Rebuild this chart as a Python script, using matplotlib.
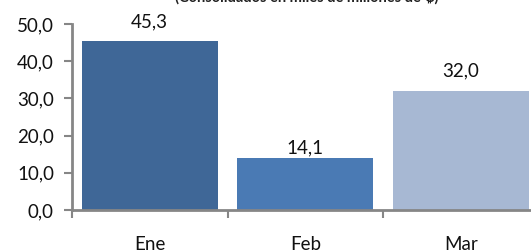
import matplotlib
matplotlib.use("Agg")
import matplotlib.pyplot as plt
from matplotlib.ticker import FixedLocator, NullFormatter

categories = ["Ene", "Feb", "Mar"]
values = [45.3, 14.1, 32.0]
value_labels = ["45,3", "14,1", "32,0"]
yticks = [0, 10, 20, 30, 40, 50]
ytick_labels = ["0,0", "10,0", "20,0", "30,0", "40,0", "50,0"]
title = "(Consolidados en miles de millones de ₡)"

colors = ["#3F6797", "#4A7AB4", "#A7B8D3"]
label_offsets_px = [20, 10, 20]
gray = "#868686"
fam = ["Lato", "DejaVu Sans"]
plt.rcParams["font.family"] = fam

fig = plt.figure(figsize=(5.31, 2.52), dpi=100)
ax = fig.add_axes([72/531, 42/252, 466.5/531, 186/252])
x = list(range(len(categories)))
bars = ax.bar(x, values, width=0.875, color=colors, zorder=1)
ax.set_xlim(-0.5, 2.5)
ax.set_ylim(0, 50)
ax.set_yticks(yticks)
ax.set_yticklabels(ytick_labels)
ax.set_xticks(x)
ax.set_xticklabels(categories)
ax.xaxis.set_minor_locator(FixedLocator([-0.5, 0.5, 1.5, 2.5]))
ax.xaxis.set_minor_formatter(NullFormatter())
ax.tick_params(axis="x", which="major", length=0, pad=19, labelsize=13.5, labelcolor="#111111")
ax.tick_params(axis="x", which="minor", length=6, width=1.5, color=gray, direction="out")
ax.tick_params(axis="y", length=6, width=1.5, color=gray, direction="out", pad=7,
               labelsize=13.5, labelcolor="#111111")
for s in ["top", "right"]:
    ax.spines[s].set_visible(False)
for s in ["left", "bottom"]:
    ax.spines[s].set_color(gray)
    ax.spines[s].set_linewidth(2)
    ax.spines[s].set_zorder(3)

for xi, v, lab, off in zip(x, values, value_labels, label_offsets_px):
    ax.annotate(lab, (xi, v), xytext=(0, off), textcoords="offset pixels",
                ha="center", va="center", fontsize=13.5, color="#111111")

fig.text(307/531, 1.0 + 3/252, title, ha="center", va="center", fontsize=10.5,
         fontweight="bold", color="#222222")

fig.savefig("out.png", dpi=100)
